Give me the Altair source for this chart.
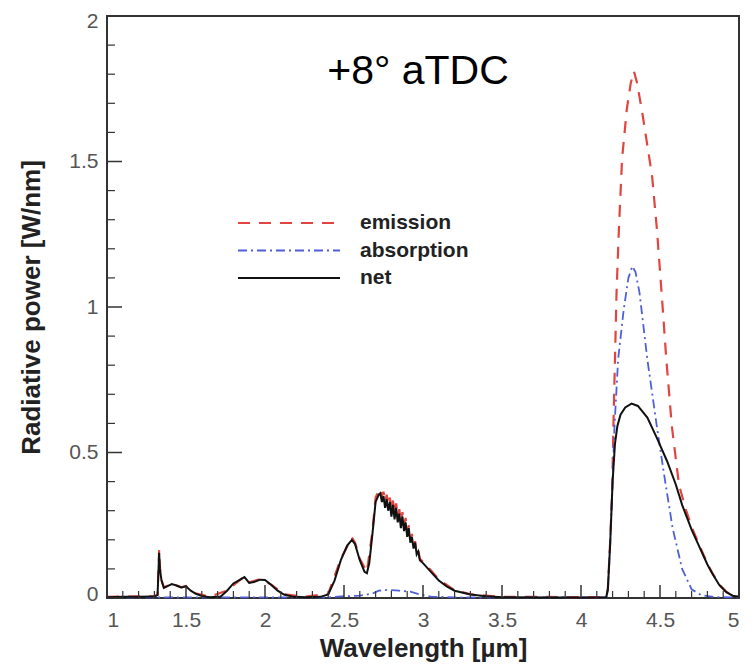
import altair as alt
import pandas as pd

# ---------------- data ----------------
series_names = ["emission", "absorption", "net"]
series_colors = ["#e2453f", "#4f5fd8", "#111111"]

zig_x = [2.73, 2.74, 2.75, 2.76, 2.77, 2.78, 2.79, 2.80, 2.81, 2.82, 2.83, 2.84, 2.85,
         2.86, 2.87, 2.88, 2.89, 2.90, 2.91, 2.92, 2.93, 2.94, 2.95, 2.96, 2.97, 2.98]

net_wl = ([1.00, 1.10, 1.20, 1.30, 1.32, 1.33, 1.335, 1.345, 1.36, 1.38, 1.41, 1.44, 1.47,
           1.50, 1.53, 1.56, 1.60, 1.65, 1.72, 1.76, 1.80, 1.84, 1.87, 1.90, 1.93, 1.97,
           2.00, 2.04, 2.08, 2.12, 2.17, 2.25, 2.35, 2.40, 2.44, 2.48, 2.52, 2.55, 2.57,
           2.60, 2.63, 2.645, 2.66, 2.68, 2.70, 2.72]
          + zig_x
          + [3.00, 3.05, 3.10, 3.15, 3.20, 3.30, 3.40, 3.50, 3.80, 4.10, 4.16, 4.17, 4.185,
             4.20, 4.215, 4.23, 4.25, 4.28, 4.32, 4.36, 4.42, 4.48, 4.545, 4.60, 4.64, 4.70,
             4.75, 4.80, 4.83, 4.875, 4.92, 4.96, 5.00])
net_val = ([0.003, 0.004, 0.004, 0.005, 0.010, 0.155, 0.100, 0.060, 0.035, 0.040, 0.048,
            0.043, 0.036, 0.040, 0.025, 0.015, 0.007, 0.003, 0.005, 0.025, 0.050, 0.062,
            0.072, 0.052, 0.055, 0.063, 0.062, 0.045, 0.025, 0.012, 0.005, 0.003, 0.004,
            0.012, 0.060, 0.130, 0.180, 0.200, 0.185, 0.130, 0.090, 0.085, 0.120, 0.220,
            0.330, 0.355]
           + [0.36, 0.33, 0.35, 0.31, 0.34, 0.30, 0.33, 0.28, 0.32, 0.27, 0.31, 0.26, 0.29,
              0.24, 0.28, 0.23, 0.26, 0.21, 0.24, 0.19, 0.21, 0.17, 0.19, 0.15, 0.16, 0.13]
           + [0.120, 0.090, 0.060, 0.040, 0.025, 0.012, 0.006, 0.003, 0.002, 0.002, 0.003,
              0.030, 0.190, 0.400, 0.530, 0.590, 0.630, 0.655, 0.668, 0.660, 0.620, 0.550,
              0.470, 0.390, 0.320, 0.235, 0.175, 0.115, 0.085, 0.045, 0.020, 0.008, 0.004])

em_wl = ([1.00, 1.30, 1.32, 1.33, 1.335, 1.345, 1.36, 1.41, 1.47, 1.50, 1.56, 1.65, 1.76,
          1.87, 1.90, 1.97, 2.04, 2.12, 2.25, 2.40, 2.48, 2.55, 2.57, 2.60, 2.645, 2.68,
          2.70, 2.72]
         + zig_x
         + [3.00, 3.05, 3.10, 3.20, 3.30, 3.50, 4.10, 4.16, 4.17, 4.185, 4.197, 4.205,
            4.215, 4.225, 4.24, 4.26, 4.29, 4.315, 4.335, 4.355, 4.39, 4.45, 4.48, 4.51,
            4.54, 4.575, 4.62, 4.66, 4.70, 4.75, 4.80, 4.83, 4.875, 4.92, 4.96, 5.00])
em_val = ([0.004, 0.006, 0.012, 0.165, 0.105, 0.062, 0.036, 0.049, 0.037, 0.041, 0.016,
           0.004, 0.026, 0.074, 0.054, 0.065, 0.046, 0.013, 0.004, 0.014, 0.135, 0.208,
           0.190, 0.135, 0.090, 0.230, 0.345, 0.370]
          + [0.375, 0.350, 0.365, 0.330, 0.355, 0.320, 0.345, 0.300, 0.335, 0.290, 0.325,
             0.280, 0.305, 0.260, 0.295, 0.250, 0.275, 0.225, 0.250, 0.200, 0.220, 0.180,
             0.195, 0.155, 0.165, 0.135]
          + [0.125, 0.095, 0.064, 0.027, 0.013, 0.004, 0.003, 0.003, 0.030, 0.200, 0.360,
             0.590, 0.820, 1.050, 1.270, 1.510, 1.680, 1.770, 1.810, 1.770, 1.660, 1.450,
             1.270, 1.050, 0.820, 0.590, 0.390, 0.310, 0.245, 0.180, 0.118, 0.087, 0.046,
             0.021, 0.009, 0.005])

abs_wl = [1.00, 2.40, 2.50, 2.60, 2.68, 2.72, 2.78, 2.85, 2.92, 2.98, 3.05, 3.20, 4.16,
          4.17, 4.185, 4.197, 4.212, 4.235, 4.27, 4.30, 4.325, 4.345, 4.37, 4.42, 4.48,
          4.53, 4.58, 4.64, 4.70, 4.76, 4.85, 5.00]
abs_val = [0.002, 0.002, 0.006, 0.008, 0.015, 0.025, 0.028, 0.025, 0.022, 0.012, 0.005,
           0.002, 0.002, 0.030, 0.200, 0.360, 0.590, 0.820, 0.990, 1.100, 1.140, 1.120,
           1.050, 0.820, 0.590, 0.410, 0.240, 0.100, 0.030, 0.010, 0.003, 0.002]

x_major = [1, 1.5, 2, 2.5, 3, 3.5, 4, 4.5, 5]
y_major = [0, 0.5, 1, 1.5, 2]
x_minor = [round(1 + 0.1 * i, 1) for i in range(41) if i % 5]
y_minor = [round(0.1 * i, 1) for i in range(21) if i % 5]

annotation = "+8° aTDC"
x_title = "Wavelength [µm]"
y_title = "Radiative power [W/nm]"

# ---------------- chart ----------------
W, H = 632, 582
FONT = "Liberation Sans"

xs = alt.Scale(domain=[1, 5], nice=False, zero=False)
ys = alt.Scale(domain=[0, 2], nice=False)

X = alt.X("wl:Q", scale=xs,
          axis=alt.Axis(values=x_major, format="~g", title=x_title))
Y = alt.Y("val:Q", scale=ys,
          axis=alt.Axis(values=y_major, format="~g", title=y_title,
                        labelFlush=True, labelFlushOffset=6))

dfs = {
    "emission": pd.DataFrame({"wl": em_wl, "val": em_val}),
    "absorption": pd.DataFrame({"wl": abs_wl, "val": abs_val}),
    "net": pd.DataFrame({"wl": net_wl, "val": net_val}),
}
dashes = {"emission": [12, 9], "absorption": [9, 4, 2, 4], "net": [1, 0]}
widths = {"emission": 2.2, "absorption": 1.8, "net": 2.0}

layers = []
for name, col in zip(series_names, series_colors):
    mk = dict(color=col, strokeWidth=widths[name])
    if name != "net":
        mk["strokeDash"] = dashes[name]
    layers.append(alt.Chart(dfs[name]).mark_line(**mk).encode(x=X, y=Y))

tick_col = "#333333"
xt_major = alt.Chart(pd.DataFrame({"t": x_major})).mark_rule(color=tick_col, strokeWidth=1.5).encode(
    x=alt.X("t:Q", scale=xs), y=alt.value(H), y2=alt.value(H - 13))
xt_minor = alt.Chart(pd.DataFrame({"t": x_minor})).mark_rule(color=tick_col, strokeWidth=1.2).encode(
    x=alt.X("t:Q", scale=xs), y=alt.value(H), y2=alt.value(H - 7))
yt_major = alt.Chart(pd.DataFrame({"t": y_major})).mark_rule(color=tick_col, strokeWidth=1.5).encode(
    y=alt.Y("t:Q", scale=ys), x=alt.value(0), x2=alt.value(15))
yt_minor = alt.Chart(pd.DataFrame({"t": y_minor})).mark_rule(color=tick_col, strokeWidth=1.2).encode(
    y=alt.Y("t:Q", scale=ys), x=alt.value(0), x2=alt.value(8))

# legend (manual, to get long line samples)
leg_layers = []
for i, (name, col) in enumerate(zip(series_names, series_colors)):
    mk = dict(color=col, strokeWidth=2.2)
    if name != "net":
        mk["strokeDash"] = dashes[name]
    yy = 207 + i * 27.5
    one = pd.DataFrame({"series": [name]})
    leg_layers.append(alt.Chart(one).mark_rule(**mk).encode(
        x=alt.value(131), x2=alt.value(233), y=alt.value(yy)))
    leg_layers.append(alt.Chart(one).mark_text(
        align="left", baseline="middle", font=FONT, fontSize=21, fontWeight="bold",
        color="#222222").encode(x=alt.value(253), y=alt.value(yy), text="series:N"))

ann = alt.Chart(pd.DataFrame({"label": [annotation]})).mark_text(
    align="center", baseline="alphabetic", font=FONT, fontSize=41, color="#000000"
).encode(x=alt.value(311), y=alt.value(68), text="label:N")

chart = alt.layer(
    *layers, xt_major, xt_minor, yt_major, yt_minor, *leg_layers, ann
).properties(
    width=W, height=H,
    autosize=alt.AutoSizeParams(type="none"),
    padding={"left": 99, "top": 8, "right": 6, "bottom": 64},
).configure_view(
    stroke="#333333", strokeWidth=2
).configure_axis(
    grid=False, ticks=False, tickSize=0, domain=False,
    labelFont=FONT, labelFontSize=21, labelColor="#555555",
    titleFont=FONT, titleFontSize=26, titleFontWeight="bold", titleColor="#222222",
).configure_axisX(
    labelPadding=11, titlePadding=5,
).configure_axisY(
    labelPadding=9, titlePadding=24,
)

chart.save("out.html", embed_options={"renderer": "svg", "actions": False})
